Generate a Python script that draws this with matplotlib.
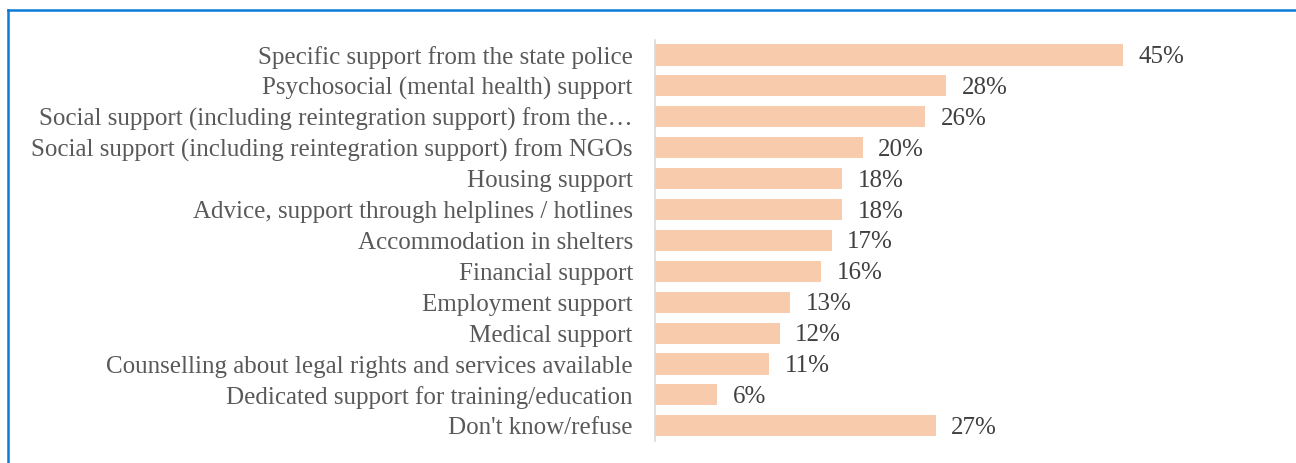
import matplotlib
matplotlib.use("Agg")
import matplotlib.pyplot as plt
from matplotlib.lines import Line2D

categories = [
    "Specific support from the state police",
    "Psychosocial (mental health) support",
    "Social support (including reintegration support) from the\u2026",
    "Social support (including reintegration support) from NGOs",
    "Housing support",
    "Advice, support through helplines / hotlines",
    "Accommodation in shelters",
    "Financial support",
    "Employment support",
    "Medical support",
    "Counselling about legal rights and services available",
    "Dedicated support for training/education",
    "Don't know/refuse",
]
values = [45, 28, 26, 20, 18, 18, 17, 16, 13, 12, 11, 6, 27]

plt.rcParams["font.family"] = ["Liberation Serif", "DejaVu Serif"]

W, H = 1296, 463
fig = plt.figure(figsize=(W / 100, H / 100), dpi=100)

row = 30.9
top_px = 55 - row / 2
n = len(categories)
ax_left = 655 / W
ax_w = 10.4 * 55 / W
ax_bottom = (H - (top_px + n * row)) / H
ax_h = n * row / H
ax = fig.add_axes([ax_left, ax_bottom, ax_w, ax_h])

y = list(range(n))
ax.barh(y, values, height=0.68, color="#F8CBAD")
ax.set_xlim(0, 55)
ax.set_ylim(n - 0.5, -0.5)
ax.set_yticks(y)
ax.set_yticklabels(categories, fontsize=18, color="#595959")
ax.tick_params(axis="y", length=0, pad=16)
ax.set_xticks([])
for s in ("top", "right", "bottom"):
    ax.spines[s].set_visible(False)
ax.spines["left"].set_color("#d9d9d9")
ax.spines["left"].set_linewidth(1.2)

for yi, v in zip(y, values):
    ax.annotate(f"{v}%", xy=(v, yi), xytext=(11, -1.5), textcoords="offset points",
                va="center", ha="left", fontsize=18, color="#404040")

# blue frame around the figure panel
blue = "#0A7BD6"
fig.add_artist(Line2D([8 / W, 1.0], [1 - 10 / H, 1 - 10 / H], color=blue, lw=1.8,
                      transform=fig.transFigure))
fig.add_artist(Line2D([8 / W, 8 / W], [0, 1 - 10 / H], color=blue, lw=1.8,
                      transform=fig.transFigure))

fig.savefig("out.png", dpi=100)
